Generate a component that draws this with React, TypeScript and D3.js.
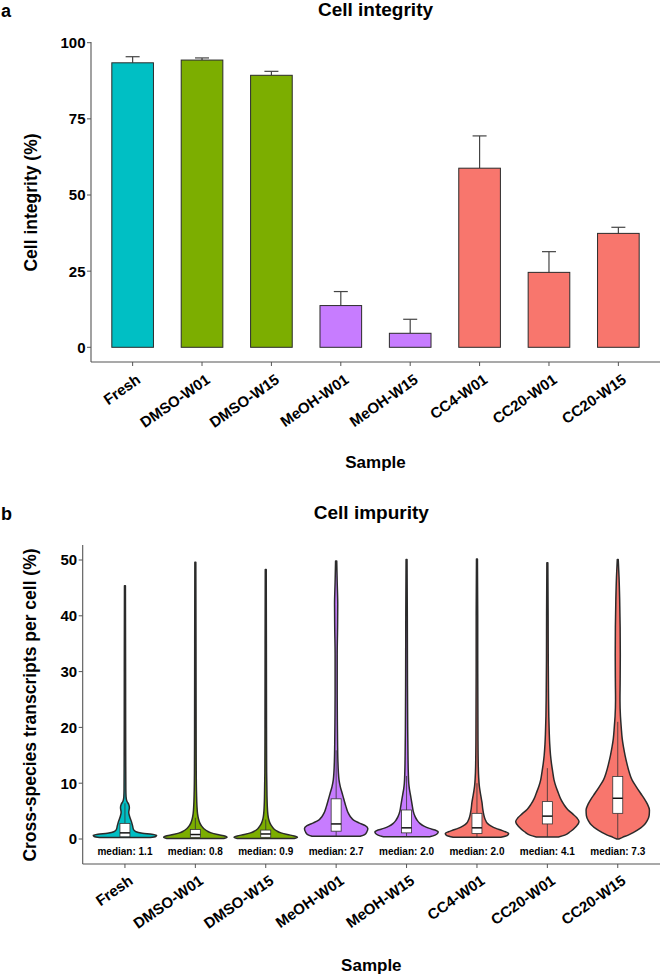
import React from "react";
import * as d3 from "d3";

const samples = ["Fresh", "DMSO-W01", "DMSO-W15", "MeOH-W01", "MeOH-W15", "CC4-W01", "CC20-W01", "CC20-W15"];
const groups = ["Fresh", "DMSO", "DMSO", "MeOH", "MeOH", "CC", "CC", "CC"];

// Panel a: cell integrity (%)
const integrityMean = [93.4, 94.3, 89.3, 13.7, 4.6, 58.8, 24.6, 37.4];
const integrityUpper = [95.4, 95.0, 90.6, 18.3, 9.2, 69.4, 31.4, 39.4];
const integrityTicks = [0, 25, 50, 75, 100];

// Panel b: cross-species transcripts per cell (%)
const impurityTicks = [0, 10, 20, 30, 40, 50];
const impurityMedian = [1.1, 0.8, 0.9, 2.7, 2.0, 2.0, 4.1, 7.3];
const impurityQ1 = [0.4, 0.3, 0.3, 1.4, 1.1, 1.0, 2.7, 4.6];
const impurityQ3 = [2.8, 1.7, 1.6, 7.2, 5.2, 4.6, 6.7, 11.2];
const impurityWhiskerLo = [0.25, 0.1, 0.1, 0.5, 0.4, 0.3, 0.35, 0];
const impurityWhiskerHi = [6.4, 3.8, 3.5, 15.9, 11.3, 10.0, 12.7, 21.0];

// violin density profiles: [value, relative half-width]
const violinFresh: [number, number][] = [[0.25, 0.8], [0.45, 0.97], [0.65, 1.0], [0.85, 0.85], [1.05, 0.55], [1.3, 0.35], [1.7, 0.27], [2.4, 0.24], [3.2, 0.2], [4.0, 0.15], [4.8, 0.12], [5.6, 0.14], [6.2, 0.12], [6.8, 0.06], [7.6, 0.035], [9, 0.028], [15, 0.024], [30, 0.02], [45.4, 0.015]];
const violinDmsoW01: [number, number][] = [[0.1, 0.9], [0.3, 1.0], [0.5, 0.95], [0.8, 0.7], [1.1, 0.5], [1.4, 0.38], [1.8, 0.28], [2.3, 0.2], [2.9, 0.14], [3.6, 0.1], [4.5, 0.07], [6, 0.05], [8, 0.038], [12, 0.028], [20, 0.024], [35, 0.02], [49.6, 0.015]];
const violinDmsoW15: [number, number][] = [[0.1, 0.9], [0.3, 1.0], [0.55, 0.9], [0.8, 0.68], [1.1, 0.48], [1.4, 0.36], [1.8, 0.26], [2.3, 0.19], [2.9, 0.13], [3.6, 0.09], [4.5, 0.065], [6, 0.048], [8, 0.038], [12, 0.028], [20, 0.024], [35, 0.02], [48.3, 0.015]];
const violinMeohW01: [number, number][] = [[0.5, 0.76], [0.8, 0.9], [1.3, 0.97], [1.9, 1.0], [2.4, 0.92], [2.9, 0.72], [3.4, 0.55], [4.0, 0.45], [4.8, 0.37], [5.8, 0.31], [7, 0.25], [8.2, 0.19], [9.4, 0.13], [10.6, 0.09], [12, 0.07], [14, 0.055], [17, 0.045], [21, 0.038], [26, 0.033], [33, 0.033], [38, 0.045], [42, 0.05], [46, 0.033], [49.8, 0.018]];
const violinMeohW15: [number, number][] = [[0.4, 0.73], [0.7, 0.9], [1.0, 0.98], [1.3, 1.0], [1.6, 0.9], [1.9, 0.72], [2.3, 0.55], [2.8, 0.42], [3.4, 0.33], [4.0, 0.27], [5, 0.21], [6, 0.18], [7, 0.15], [8, 0.12], [9, 0.09], [10, 0.07], [12, 0.055], [15, 0.045], [20, 0.036], [30, 0.028], [40, 0.024], [50.1, 0.015]];
const violinCc4W01: [number, number][] = [[0.3, 0.75], [0.6, 0.95], [1.0, 1.0], [1.3, 0.9], [1.6, 0.75], [1.9, 0.6], [2.3, 0.45], [2.8, 0.33], [3.5, 0.26], [4.5, 0.21], [5.5, 0.18], [6.5, 0.16], [7.5, 0.13], [8.5, 0.1], [9.5, 0.075], [11, 0.055], [13, 0.042], [18, 0.032], [30, 0.025], [40, 0.024], [50.2, 0.015]];
const violinCc20W01: [number, number][] = [[0.35, 0.35], [0.7, 0.55], [1.3, 0.72], [2.2, 0.9], [3.1, 1.0], [3.8, 0.93], [4.5, 0.8], [5.3, 0.64], [6.2, 0.52], [7.2, 0.42], [8.2, 0.35], [9.4, 0.27], [10.6, 0.21], [12, 0.17], [13.5, 0.13], [15, 0.1], [17, 0.075], [19, 0.06], [22, 0.045], [26, 0.036], [32, 0.028], [40, 0.024], [49.5, 0.015]];
const violinCc20W15: [number, number][] = [[0, 0.03], [0.3, 0.15], [0.7, 0.33], [1.2, 0.5], [1.8, 0.68], [2.5, 0.83], [3.3, 0.93], [4.2, 0.99], [5.2, 1.0], [6.2, 0.94], [7.2, 0.84], [8.2, 0.72], [9.4, 0.58], [10.6, 0.45], [12, 0.36], [13.5, 0.29], [15, 0.23], [16.5, 0.18], [18, 0.14], [20, 0.11], [22, 0.085], [25, 0.07], [28, 0.075], [33, 0.08], [38, 0.075], [43, 0.06], [47, 0.04], [50.1, 0.015]];
const violins = [violinFresh, violinDmsoW01, violinDmsoW15, violinMeohW01, violinMeohW15, violinCc4W01, violinCc20W01, violinCc20W15];

const groupColor: Record<string, string> = { Fresh: "#00BFC4", DMSO: "#7CAE00", MeOH: "#C77CFF", CC: "#F8766D" };
const FONT = "'Liberation Sans', Arial, Helvetica, sans-serif";
const AXIS = "#555";
const OUTLINE = "#2b2b2b";

export default function App() {
  // ---------- panel a ----------
  const ax0 = 91, ax1 = 660, aTop = 42, aBottom = 362;
  const xa = d3.scaleLinear().domain([0.4, samples.length + 0.6]).range([ax0, ax1]);
  const ya = d3.scaleLinear().domain([0, 100]).range([347.3, 42.7]);
  const barUnit = xa(1) - xa(0);
  const barW = barUnit * 0.6;
  const capW = 14;

  // ---------- panel b ----------
  const bx0 = 82.7, bx1 = 660, bTop = 545, bBottom = 864;
  const xb = d3.scaleLinear().domain([0.4, samples.length + 0.6]).range([bx0, bx1]);
  const yb = d3.scaleLinear().domain([0, 50]).range([839, 560]);
  const unitB = xb(1) - xb(0);
  const halfMax = unitB * 0.45;
  const boxW = 10;

  const violinPath = (prof: [number, number][], cx: number) =>
    d3
      .area<[number, number]>()
      .y((d) => yb(d[0]))
      .x0((d) => cx - d[1] * halfMax)
      .x1((d) => cx + d[1] * halfMax)
      .curve(d3.curveMonotoneY)(prof) || "";

  const labelAngle = -35;

  return (
    <svg width={661} height={978} style={{ position: "absolute", left: 0, top: 0, background: "#fff" }} fontFamily={FONT}>
      {/* ===== Panel a ===== */}
      <text x={1} y={17} fontSize={18} fontWeight="bold">a</text>
      <text x={(ax0 + ax1) / 2} y={16} fontSize={19} fontWeight="bold" textAnchor="middle">Cell integrity</text>

      {samples.map((s, i) => {
        const cx = xa(i + 1);
        return (
          <g key={"a" + s}>
            <line x1={cx} x2={cx} y1={ya(integrityMean[i])} y2={ya(integrityUpper[i])} stroke="#444" strokeWidth={1.2} />
            <line x1={cx - capW / 2} x2={cx + capW / 2} y1={ya(integrityUpper[i])} y2={ya(integrityUpper[i])} stroke="#444" strokeWidth={1.2} />
            <rect x={cx - barW / 2} width={barW} y={ya(integrityMean[i])} height={ya(0) - ya(integrityMean[i])} fill={groupColor[groups[i]]} stroke={OUTLINE} strokeWidth={1} />
          </g>
        );
      })}

      <line x1={ax0} x2={ax0} y1={aTop} y2={aBottom} stroke={AXIS} strokeWidth={1.1} />
      <line x1={ax0} x2={ax1} y1={aBottom} y2={aBottom} stroke={AXIS} strokeWidth={1.1} />
      {integrityTicks.map((t) => (
        <g key={"ta" + t}>
          <line x1={ax0 - 4} x2={ax0} y1={ya(t)} y2={ya(t)} stroke={AXIS} strokeWidth={1} />
          <text x={ax0 - 5.5} y={ya(t)} dy="0.36em" fontSize={15} fontWeight="bold" textAnchor="end">{t}</text>
        </g>
      ))}
      {samples.map((s, i) => {
        const cx = xa(i + 1);
        return (
          <g key={"xa" + s}>
            <line x1={cx} x2={cx} y1={aBottom} y2={aBottom + 4} stroke={AXIS} strokeWidth={1} />
            <text transform={`translate(${cx + 9},${aBottom + 20}) rotate(${labelAngle})`} fontSize={15} fontWeight="bold" textAnchor="end">{s}</text>
          </g>
        );
      })}
      <text x={(ax0 + ax1) / 2} y={468} fontSize={17} fontWeight="bold" textAnchor="middle">Sample</text>
      <text transform={`translate(37,${(aTop + 347) / 2 + 8}) rotate(-90)`} fontSize={17.5} fontWeight="bold" textAnchor="middle">Cell integrity (%)</text>

      {/* ===== Panel b ===== */}
      <text x={1} y={520} fontSize={18} fontWeight="bold">b</text>
      <text x={(bx0 + bx1) / 2} y={519} fontSize={19} fontWeight="bold" textAnchor="middle">Cell impurity</text>

      {samples.map((s, i) => {
        const cx = xb(i + 1);
        return (
          <g key={"v" + s}>
            <path d={violinPath(violins[i], cx)} fill={groupColor[groups[i]]} stroke={OUTLINE} strokeWidth={1.5} strokeLinejoin="round" />
            <line x1={cx} x2={cx} y1={yb(impurityQ3[i])} y2={yb(impurityWhiskerHi[i])} stroke="#333" strokeWidth={0.8} />
            <line x1={cx} x2={cx} y1={yb(impurityQ1[i])} y2={yb(impurityWhiskerLo[i])} stroke="#333" strokeWidth={0.8} />
            <rect x={cx - boxW / 2} width={boxW} y={yb(impurityQ3[i])} height={yb(impurityQ1[i]) - yb(impurityQ3[i])} fill="#fff" stroke="#333" strokeWidth={0.8} />
            <line x1={cx - boxW / 2} x2={cx + boxW / 2} y1={yb(impurityMedian[i])} y2={yb(impurityMedian[i])} stroke="#111" strokeWidth={1.5} />
            <text x={cx} y={855} fontSize={10} fontWeight="bold" textAnchor="middle">{`median: ${impurityMedian[i].toFixed(1)}`}</text>
          </g>
        );
      })}

      <line x1={bx0} x2={bx0} y1={bTop} y2={bBottom} stroke={AXIS} strokeWidth={1.1} />
      <line x1={bx0} x2={bx1} y1={bBottom} y2={bBottom} stroke={AXIS} strokeWidth={1.1} />
      {impurityTicks.map((t) => (
        <g key={"tb" + t}>
          <line x1={bx0 - 4} x2={bx0} y1={yb(t)} y2={yb(t)} stroke={AXIS} strokeWidth={1} />
          <text x={bx0 - 5.5} y={yb(t)} dy="0.36em" fontSize={15} fontWeight="bold" textAnchor="end">{t}</text>
        </g>
      ))}
      {samples.map((s, i) => {
        const cx = xb(i + 1);
        return (
          <g key={"xb" + s}>
            <line x1={cx} x2={cx} y1={bBottom} y2={bBottom + 4} stroke={AXIS} strokeWidth={1} />
            <text transform={`translate(${cx + 9},${bBottom + 19}) rotate(${labelAngle})`} fontSize={15} fontWeight="bold" textAnchor="end">{s}</text>
          </g>
        );
      })}
      <text x={(bx0 + bx1) / 2} y={971} fontSize={17} fontWeight="bold" textAnchor="middle">Sample</text>
      <text transform={`translate(36,705) rotate(-90)`} fontSize={17.5} fontWeight="bold" textAnchor="middle">Cross-species transcripts per cell (%)</text>
    </svg>
  );
}
